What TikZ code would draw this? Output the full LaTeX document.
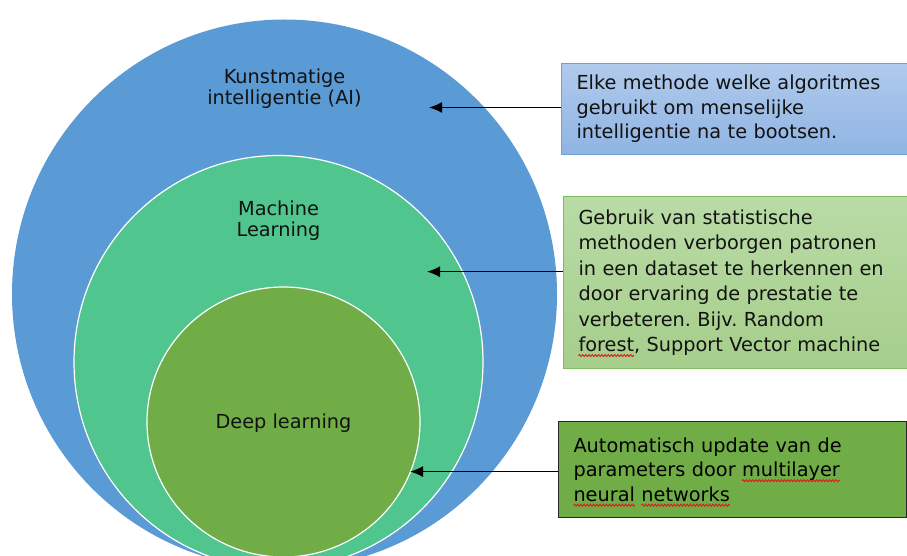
\documentclass[tikz,border=0pt]{standalone}
\usepackage{fontspec}
\setmainfont{DejaVu Sans}
\usetikzlibrary{positioning,shapes.geometric,arrows.meta,decorations.pathmorphing}

\definecolor{aiBlue}{RGB}{91,155,213}
\definecolor{mlGreen}{RGB}{80,197,142}
\definecolor{dlGreen}{RGB}{112,173,71}
\definecolor{textDark}{RGB}{18,18,18}
\definecolor{spellRed}{RGB}{225,25,25}

\newlength\waveLen
\newcommand\redwave[1]{\settowidth\waveLen{#1}%
  \makebox[0pt][l]{\tikz[baseline=0pt,overlay]\draw[spellRed, line width=0.9pt, decorate,
    decoration={snake, amplitude=1pt, segment length=3.2pt}] (0pt,-4pt) -- (\waveLen,-4pt);}#1}

\begin{document}
\frenchspacing
\begin{tikzpicture}[x=1pt,y=-1pt,>={Latex[length=13pt,width=11pt]}]

    %
    % Styles for fields, notes and pointers
    %
    \tikzstyle{field} = [ellipse, inner sep=0pt, draw=white, line width=1.2pt];
    \tikzstyle{fieldLabel} = [align=center, inner sep=0pt, text=textDark,
                              font={\fontsize{19.3}{21}\selectfont}];
    \tikzstyle{note} = [rectangle, anchor=north west, align=left, text width=318pt,
                        inner xsep=15pt, inner ysep=0pt, line width=1pt, text=textDark,
                        font={\fontsize{19.3}{24.5}\selectfont}];
    \tikzstyle{pointer} = [black, line width=1.5pt, ->];

    \clip (0,0) rectangle (907,556);

    %
    % Position fields
    %
    \node[field, draw=none, fill=aiBlue, minimum width=545pt, minimum height=549pt] (ai) at (284.5,294) {};
    \node[field, fill=mlGreen, minimum width=409pt, minimum height=413pt] (ml) at (278.5,362) {};
    \node[field, fill=dlGreen, minimum width=273pt, minimum height=270pt] (dl) at (283.5,422) {};

    \node[fieldLabel, below=50pt of ai.north] (aiLabel) {Kunstmatige\\intelligentie (AI)};
    \node[fieldLabel, below=46pt of ml.north] (mlLabel) {Machine\\Learning};
    \node[fieldLabel, yshift=-1pt] (dlLabel) at (dl.center) {Deep learning};

    %
    % Position notes
    %
    \node[note, top color={rgb,255:red,176;green,202;blue,236}, bottom color={rgb,255:red,143;green,180;blue,227},
          draw={rgb,255:red,111;green,160;blue,220}, minimum height=91pt] (aiBox) at (561,63)
      {Elke methode welke algoritmes\\gebruikt om menselijke\\intelligentie na te bootsen.};
    \node[note, below=41pt of aiBox.south west, anchor=north west, xshift=2pt,
          top color={rgb,255:red,185;green,219;blue,166}, bottom color={rgb,255:red,166;green,206;blue,139},
          draw={rgb,255:red,128;green,188;blue,98}, minimum height=172pt,
          font={\fontsize{19.3}{25.5}\selectfont}] (mlBox)
      {Gebruik van statistische\\methoden verborgen patronen\\in een dataset te herkennen en\\door ervaring de prestatie te\\verbeteren. Bijv. Random\\\redwave{forest}, Support Vector machine};
    \node[note, below=52pt of mlBox.south west, anchor=north west, xshift=-5pt,
          fill=dlGreen, draw=black!85, text=black, minimum height=96pt] (dlBox)
      {Automatisch update van de\\parameters door \redwave{multilayer}\\\redwave{neural} \redwave{networks}};

    %
    % Connect notes to fields
    %
    \coordinate (aiTip) at (429,107.5);
    \coordinate (mlTip) at (427,271.7);
    \coordinate (dlTip) at (410,471.6);

    \draw[pointer] (aiBox.west |- aiTip) -- (aiTip);
    \draw[pointer] (mlBox.west |- mlTip) -- (mlTip);
    \draw[pointer] (dlBox.west |- dlTip) -- (dlTip);
\end{tikzpicture}
\end{document}
